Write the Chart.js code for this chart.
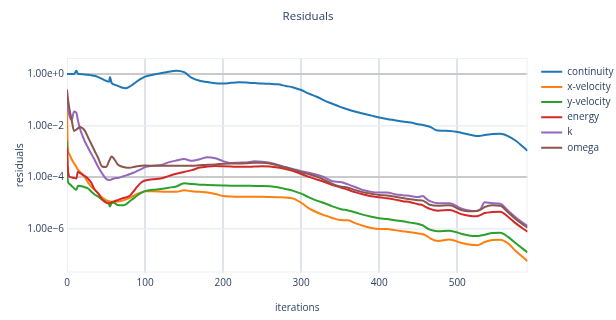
<!DOCTYPE html>
<html>
<head>
<meta charset="utf-8">
<title>Residuals</title>
<script src="https://cdn.jsdelivr.net/npm/chart.js@4.4.1/dist/chart.umd.min.js"></script>
<style>
  html, body { margin: 0; padding: 0; background: #ffffff; }
  #wrap { width: 616px; height: 320px; }
</style>
</head>
<body>
<div id="wrap"><canvas id="chart" width="616" height="320"></canvas></div>
<script>
// Solver iterations at which residuals are sampled
const iterations = [
  0, 1, 3, 6, 9, 12, 14, 17, 20, 23,
  27, 31, 35, 40, 45, 50, 54, 55, 57, 60,
  65, 70, 75, 80, 85, 90, 95, 100, 110, 120,
  130, 140, 150, 160, 170, 180, 190, 200, 210, 220,
  230, 240, 250, 260, 270, 280, 290, 300, 310, 320,
  330, 340, 350, 360, 370, 380, 390, 400, 410, 420,
  430, 440, 450, 456, 460, 465, 475, 490, 505, 515,
  525, 530, 535, 545, 555, 565, 575, 590
];

// Residuals, stored as log10 of the residual value
const continuity = [
  0, 0, 0, 0, 0, 0.13, 0.01, 0, -0.01, -0.02,
  -0.03, -0.05, -0.07, -0.12, -0.19, -0.26, -0.3, -0.12, -0.34, -0.4,
  -0.46, -0.52, -0.55, -0.49, -0.39, -0.28, -0.18, -0.1, -0.03, 0.03,
  0.09, 0.13, 0.07, -0.15, -0.26, -0.31, -0.36, -0.37, -0.34, -0.32,
  -0.33, -0.35, -0.37, -0.38, -0.4, -0.46, -0.52, -0.62, -0.76, -0.88,
  -1.03, -1.15, -1.27, -1.37, -1.46, -1.54, -1.61, -1.68, -1.74, -1.79,
  -1.84, -1.88, -1.94, -1.97, -2.0, -2.04, -2.19, -2.2, -2.27, -2.34,
  -2.4, -2.39, -2.36, -2.32, -2.31, -2.4, -2.58, -2.97
];
const xVelocity = [
  -1.3, -2.85, -3.1, -3.3, -3.45, -3.6, -3.7, -3.8, -3.88, -4.0,
  -4.2, -4.36, -4.47, -4.62, -4.78, -4.88, -4.92, -4.93, -4.94, -4.95,
  -4.93, -4.9, -4.86, -4.8, -4.72, -4.64, -4.58, -4.54, -4.54, -4.55,
  -4.56, -4.56, -4.5, -4.54, -4.56, -4.58, -4.64, -4.72, -4.74, -4.75,
  -4.75, -4.75, -4.75, -4.76, -4.77, -4.78, -4.82, -4.98, -5.2, -5.35,
  -5.47, -5.57, -5.65, -5.66, -5.78, -5.88, -5.96, -6.0, -6.0, -6.04,
  -6.08, -6.12, -6.17, -6.2, -6.25, -6.35, -6.46, -6.4, -6.53, -6.6,
  -6.63, -6.58, -6.5, -6.42, -6.41, -6.55, -6.85, -7.24
];
const yVelocity = [
  -2.6, -4.1, -4.25, -4.33, -4.42, -4.48, -4.32, -4.33, -4.35, -4.38,
  -4.43, -4.55, -4.65, -4.75, -4.86, -4.95, -5.05, -5.13, -5.0, -4.98,
  -5.07, -5.08, -5.05, -4.93, -4.82, -4.7, -4.6, -4.53, -4.48, -4.45,
  -4.4, -4.35, -4.23, -4.26, -4.28, -4.29, -4.3, -4.31, -4.32, -4.32,
  -4.32, -4.33, -4.33, -4.34, -4.38, -4.45, -4.52, -4.63, -4.77, -4.9,
  -5.0, -5.12, -5.22, -5.28, -5.36, -5.45, -5.52, -5.58, -5.61, -5.66,
  -5.7, -5.75, -5.8, -5.86, -5.94, -6.02, -6.08, -6.06, -6.18, -6.25,
  -6.27, -6.25, -6.22, -6.15, -6.14, -6.3, -6.55, -6.9
];
const energy = [
  -2.82, -3.6, -3.97, -4.0, -4.02, -4.04, -3.78, -3.84, -3.9, -3.95,
  -4.05, -4.2, -4.45, -4.62, -4.85, -4.98, -5.0, -5.0, -4.96, -4.93,
  -4.88, -4.82, -4.78, -4.72, -4.55, -4.36, -4.2, -4.12, -4.07, -4.04,
  -3.95, -3.86, -3.79, -3.72, -3.62, -3.58, -3.56, -3.57, -3.58, -3.59,
  -3.59, -3.58, -3.57, -3.58, -3.62, -3.68, -3.75, -3.87, -3.98, -4.08,
  -4.18, -4.3, -4.38, -4.48, -4.58, -4.66, -4.73, -4.77, -4.81, -4.86,
  -4.92, -4.96, -5.04, -5.08, -5.15, -5.22, -5.29, -5.26, -5.42, -5.48,
  -5.5, -5.45, -5.38, -5.34, -5.33, -5.52, -5.78, -6.1
];
const k = [
  -0.85, -1.2, -1.6, -1.78, -1.45, -1.5, -1.8, -2.15, -2.4, -2.62,
  -2.85, -3.08, -3.3, -3.6, -3.85, -4.05, -4.1, -4.1, -4.08, -4.04,
  -4.02, -3.98, -3.93, -3.88, -3.82, -3.75, -3.68, -3.6, -3.55, -3.52,
  -3.42, -3.35, -3.29, -3.36, -3.3, -3.22, -3.26, -3.37, -3.44, -3.43,
  -3.42, -3.38, -3.39, -3.43, -3.52, -3.6, -3.68, -3.76, -3.82, -3.9,
  -4.0, -4.15, -4.18, -4.27, -4.38, -4.5, -4.56, -4.58, -4.58, -4.65,
  -4.69, -4.72, -4.76, -4.72, -4.82, -4.92, -5.0, -5.0, -5.2, -5.28,
  -5.3, -5.22, -4.96, -5.0, -5.02, -5.28, -5.55, -5.88
];
const omega = [
  -0.6, -0.9, -1.33, -1.78, -2.2, -2.15, -2.1, -2.05, -2.1, -2.2,
  -2.45, -2.7, -2.95, -3.25, -3.58, -3.6, -3.36, -3.3, -3.19, -3.27,
  -3.5, -3.58, -3.62, -3.63, -3.6, -3.57, -3.55, -3.54, -3.55, -3.55,
  -3.55, -3.55, -3.55, -3.55, -3.53, -3.51, -3.5, -3.47, -3.46, -3.46,
  -3.45, -3.43, -3.43, -3.46, -3.54, -3.62, -3.7, -3.8, -3.88, -3.97,
  -4.1, -4.25, -4.35, -4.4, -4.5, -4.58, -4.63, -4.68, -4.7, -4.75,
  -4.8, -4.85, -4.88, -4.9, -4.97, -5.06, -5.1, -5.08, -5.26, -5.31,
  -5.3, -5.25, -5.15, -5.08, -5.1, -5.35, -5.62, -5.95
];

const seriesNames = ['continuity', 'x-velocity', 'y-velocity', 'energy', 'k', 'omega'];
const seriesLog10 = [continuity, xVelocity, yVelocity, energy, k, omega];
const seriesColors = ['#1f77b4', '#ff7f0e', '#2ca02c', '#d62728', '#9467bd', '#8c564b'];

const xTickValues = [0, 100, 200, 300, 400, 500];
const yTickValues = [1, 1e-2, 1e-4, 1e-6];
const yTickLabels = ['1.00e+0', '1.00e\u22122', '1.00e\u22124', '1.00e\u22126'];

const FONT = "'Open Sans', 'Noto Sans', sans-serif";
const TEXT = '#2a3f5f';

// Light frame round the plot area; legend parked right of the plot,
// title centred across the full canvas width
const frameAndLegend = {
  id: 'frameAndLegend',
  afterLayout(chart) {
    const lg = chart.legend;
    if (lg) {
      const w = lg.width, h = lg.height;
      lg.left = 536; lg.right = 536 + w;
      lg.top = 61.5; lg.bottom = 61.5 + h;
    }
    const tb = chart.titleBlock;
    if (tb) {
      tb.left = 0; tb.right = chart.width; tb.width = chart.width;
    }
  },
  beforeDatasetsDraw(chart) {
    const { ctx, chartArea: a } = chart;
    ctx.save();
    ctx.strokeStyle = '#edf0f6';
    ctx.lineWidth = 1;
    ctx.strokeRect(a.left + 0.5, a.top + 0.5, a.right - a.left - 1, a.bottom - a.top - 1);
    ctx.restore();
  }
};

const datasets = seriesNames.map((name, i) => ({
  label: name,
  data: iterations.map((it, j) => ({ x: it, y: Math.pow(10, seriesLog10[i][j]) })),
  borderColor: seriesColors[i],
  backgroundColor: seriesColors[i],
  borderWidth: 2,
  pointRadius: 0,
  pointHoverRadius: 0,
  fill: false,
  cubicInterpolationMode: 'monotone',
  order: seriesNames.length - i
}));

new Chart(document.getElementById('chart'), {
  type: 'line',
  data: { datasets },
  plugins: [frameAndLegend],
  options: {
    responsive: false,
    animation: false,
    devicePixelRatio: 1,
    layout: { padding: { left: 0, right: 88.5, top: 0, bottom: 0 } },
    plugins: {
      title: {
        display: true,
        text: 'Residuals',
        color: TEXT,
        font: { family: FONT, size: 11.5, weight: 'normal' },
        padding: { top: 10.1, bottom: 34.1 }
      },
      legend: {
        display: true,
        position: 'chartArea',
        align: 'start',
        labels: {
          usePointStyle: true,
          pointStyle: 'line',
          pointStyleWidth: 21,
          boxHeight: 10,
          padding: 5.2,
          color: TEXT,
          font: { family: FONT, size: 10 },
          sort: (a, b) => a.datasetIndex - b.datasetIndex
        }
      },
      tooltip: { enabled: false }
    },
    scales: {
      x: {
        type: 'linear',
        min: 0,
        max: 590,
        afterBuildTicks: (s) => { s.ticks = xTickValues.map(v => ({ value: v })); },
        afterFit: (s) => { s.height = 47.5; },
        border: { display: false },
        grid: {
          drawTicks: false,
          color: (c) => (c.tick && c.tick.value === 0 ? 'rgba(0,0,0,0)' : '#dfe3ea'),
          lineWidth: 2
        },
        ticks: {
          padding: 5,
          color: TEXT,
          font: { family: FONT, size: 10 },
          maxRotation: 0,
          callback: (v) => String(v)
        },
        title: {
          display: true,
          text: 'iterations',
          color: TEXT,
          font: { family: FONT, size: 10 },
          padding: { top: 0, bottom: 6 }
        }
      },
      y: {
        type: 'logarithmic',
        min: Math.pow(10, -7.68),
        max: Math.pow(10, 0.62),
        afterBuildTicks: (s) => { s.ticks = yTickValues.map(v => ({ value: v })); },
        afterFit: (s) => { s.width = 67; },
        border: { display: false },
        grid: {
          drawTicks: false,
          color: (c) => {
            const v = c.tick && c.tick.value;
            return (v === 1 || v === 1e-4) ? '#c9cacc' : '#eaeef5';
          },
          lineWidth: (c) => {
            const v = c.tick && c.tick.value;
            return (v === 1 || v === 1e-4) ? 2 : 1.5;
          }
        },
        ticks: {
          padding: 3,
          color: TEXT,
          font: { family: FONT, size: 10 },
          callback: (v) => {
            const i = yTickValues.indexOf(v);
            return i >= 0 ? yTickLabels[i] : '';
          }
        },
        title: {
          display: true,
          text: 'residuals',
          color: TEXT,
          font: { family: FONT, size: 10.5 },
          padding: { top: 14, bottom: 0 }
        }
      }
    }
  }
});
</script>
</body>
</html>
